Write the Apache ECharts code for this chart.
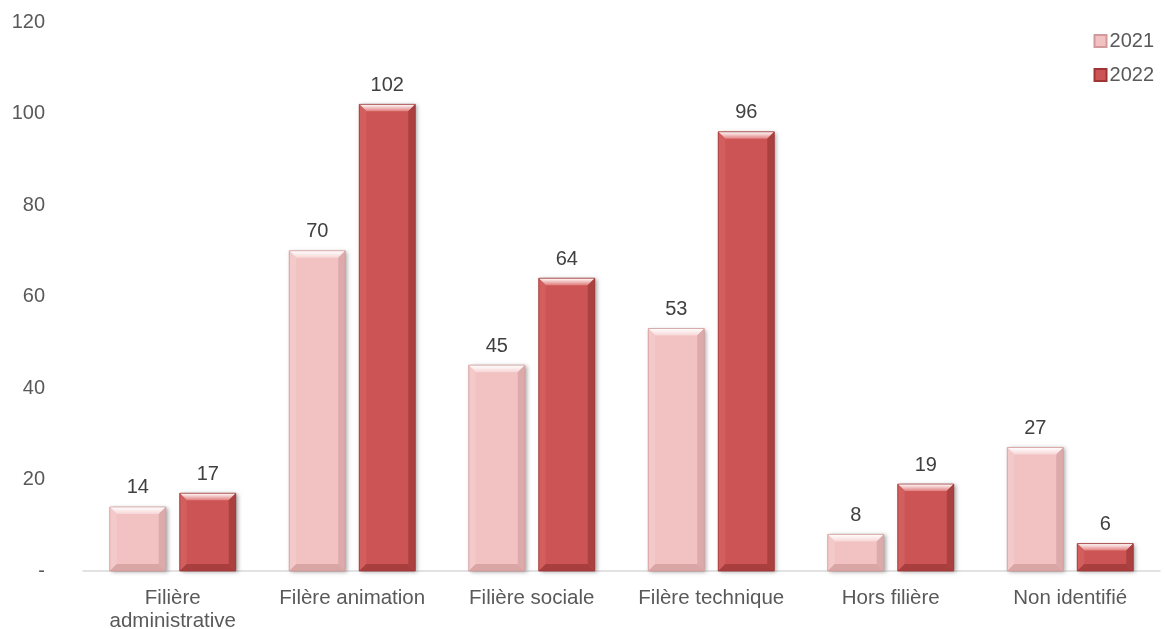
<!DOCTYPE html>
<html><head><meta charset="utf-8">
<script src="https://cdn.jsdelivr.net/npm/echarts@6/dist/echarts.min.js"></script>
<style>html,body{margin:0;padding:0;background:#fff}#c{width:1165px;height:629px}</style>
</head><body><div id="c"></div>
<script>
const categories = ['Filière\nadministrative', 'Filère animation', 'Filière sociale', 'Filère technique', 'Hors filière', 'Non identifié'];
const values2021 = [14, 70, 45, 53, 8, 27];
const values2022 = [17, 102, 64, 96, 19, 6];
const seriesNames = ['2021', '2022'];
const yTicks = [0, 20, 40, 60, 80, 100, 120];

const font = 'Liberation Sans, Arial, sans-serif';
const palettes = [
  {main: '#f2c1c1', top: '#f7d6d6', left: '#f4c9c9', right: '#dcaaaa', bottom: '#d9a5a5', stroke: '#d29a9a'},
  {main: '#cd5454', top: '#e17d7d', left: '#d25e5e', right: '#ab4040', bottom: '#a83e3e', stroke: '#9e3636'}
];
const BAR_W = 56, OFFSET = 35, BEVEL = 7;

function makeRender(si) {
  const p = palettes[si];
  return function (params, api) {
    const cat = api.value(0), val = api.value(1);
    const top = api.coord([cat, val]);
    const base = api.coord([cat, 0]);
    const cx = top[0] + (si === 0 ? -OFFSET : OFFSET);
    const x0 = cx - BAR_W / 2, x1 = cx + BAR_W / 2, y0 = top[1], y1 = base[1];
    const b = Math.min(BEVEL, (y1 - y0) / 2);
    const children = [
      {type: 'rect', shape: {x: x0, y: y0, width: BAR_W, height: y1 - y0},
       style: {fill: p.main, shadowBlur: 4, shadowOffsetX: 2, shadowOffsetY: 1, shadowColor: 'rgba(0,0,0,0.35)'}},
      {type: 'polygon', shape: {points: [[x0, y0], [x1, y0], [x1 - b, y0 + b], [x0 + b, y0 + b]]},
       style: {fill: new echarts.graphic.LinearGradient(0, 0, 0, 1, [{offset: 0, color: '#ffffff'}, {offset: 1, color: p.top}])}},
      {type: 'polygon', shape: {points: [[x0, y0], [x0 + b, y0 + b], [x0 + b, y1 - b], [x0, y1]]},
       style: {fill: p.left}},
      {type: 'polygon', shape: {points: [[x1, y0], [x1 - b, y0 + b], [x1 - b, y1 - b], [x1, y1]]},
       style: {fill: p.right}},
      {type: 'polygon', shape: {points: [[x0, y1], [x0 + b, y1 - b], [x1 - b, y1 - b], [x1, y1]]},
       style: {fill: p.bottom}},
      {type: 'rect', shape: {x: x0, y: y0, width: BAR_W, height: y1 - y0},
       style: {fill: 'none', stroke: p.stroke, lineWidth: 0.8}},
      {type: 'text', x: cx, y: y0 - 9,
       style: {text: String(val), fontSize: 20, fontFamily: font, fill: '#404040', align: 'center', verticalAlign: 'bottom'}}
    ];
    return {type: 'group', children: children};
  };
}

const chart = echarts.init(document.getElementById('c'));
chart.setOption({
  animation: false,
  textStyle: {fontFamily: font},
  legend: {
    orient: 'vertical', right: 6, top: 26, itemWidth: 12, itemHeight: 12, itemGap: 14,
    textStyle: {fontSize: 20, color: '#595959', fontFamily: font, padding: [0, 0, 0, -2]},
    data: [{name: seriesNames[0], icon: 'rect'}, {name: seriesNames[1], icon: 'rect'}]
  },
  grid: {left: 83, right: 5, top: 22, bottom: 58, containLabel: false, outerBoundsMode: 'none'},
  xAxis: {
    type: 'category', data: categories,
    axisLine: {lineStyle: {color: '#d9d9d9', width: 1.5}},
    axisTick: {show: false},
    axisLabel: {fontSize: 20.5, color: '#595959', margin: 16, lineHeight: 23, fontFamily: font, interval: 0}
  },
  yAxis: {
    type: 'value', min: 0, max: 120, interval: 20,
    axisLine: {show: false}, axisTick: {show: false}, splitLine: {show: false},
    axisLabel: {fontSize: 20, color: '#595959', margin: 38, fontFamily: font,
      formatter: v => v === 0 ? '-' : String(v)}
  },
  series: [0, 1].map(si => ({
    name: seriesNames[si], type: 'custom',
    itemStyle: {color: palettes[si].main, borderColor: palettes[si].stroke, borderWidth: 1},
    renderItem: makeRender(si),
    encode: {x: 0, y: 1},
    data: (si === 0 ? values2021 : values2022).map((v, i) => [i, v])
  }))
});
</script></body></html>
